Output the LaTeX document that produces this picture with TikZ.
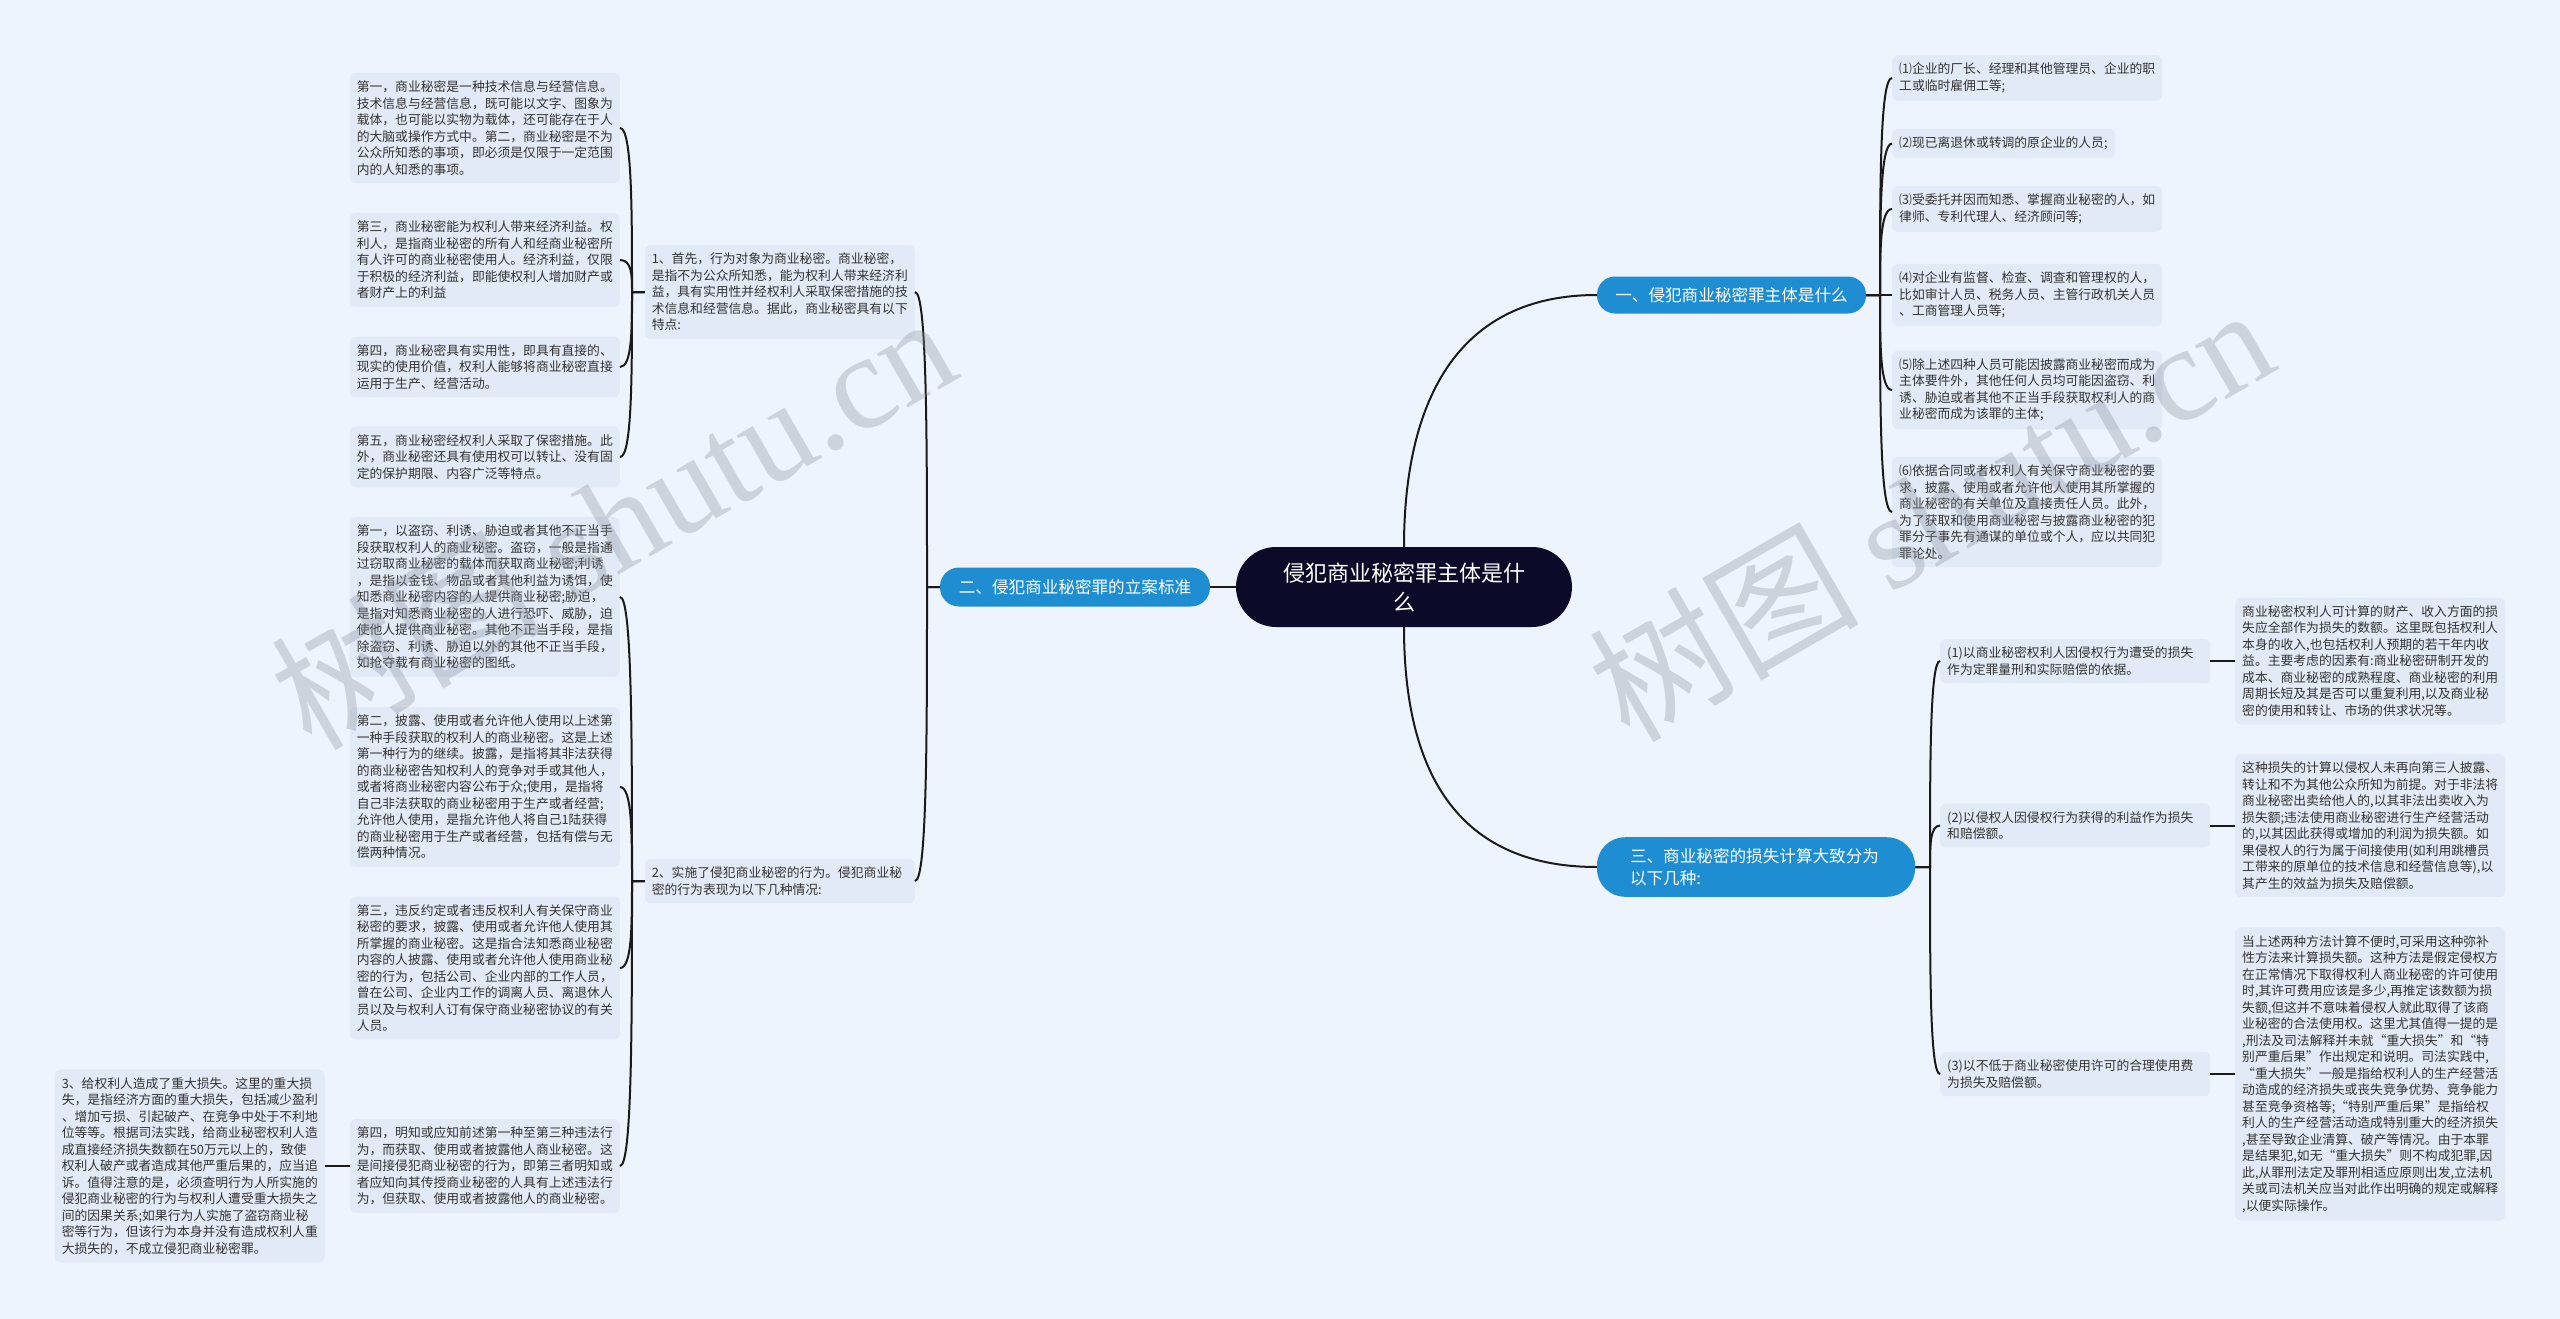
\documentclass[tikz,border=0pt]{standalone}
\usepackage{fontspec}
\setmainfont{Noto Sans CJK SC}
\newfontfamily\wmfont{Liberation Serif}
\usetikzlibrary{calc}
\definecolor{bgc}{HTML}{EEF4FD}
\definecolor{leafc}{HTML}{E2EAF7}
\definecolor{branchc}{HTML}{1E8DD2}
\definecolor{rootc}{HTML}{0B0A29}
\definecolor{txtc}{HTML}{333333}
\definecolor{linec}{HTML}{1A1A1A}
\definecolor{wmc}{HTML}{8A909C}
\newcommand\mmlink[3]{\draw[conn] (#1) -- (#2) .. controls ($(#2)!0.5!(#2|-#3)$) and (#2|-#3) .. (#3);}
\begin{document}
\begin{tikzpicture}[x=1pt,y=-1pt,
  conn/.style={draw=linec, line width=2pt},
  leafbox/.style={fill=leafc, rounded corners=6pt, text width=256pt, inner xsep=7pt, inner ysep=8pt, align=left, text=txtc, font=\fontsize{12.8}{16.5}\selectfont},
  branchbox/.style={fill=branchc, text=white, font=\fontsize{16.6}{22}\selectfont, inner sep=0pt},
  rootbox/.style={fill=rootc, text=white, rounded corners=40pt, minimum width=336pt, minimum height=80pt, align=center, font=\fontsize{22}{29}\selectfont},
  wmark/.style={text=wmc, opacity=0.33, rotate=30, font=\fontsize{135}{135}\selectfont}
]
\useasboundingbox (0,0) rectangle (2560,1319);
\fill[bgc] (0,0) rectangle (2560,1319);

% root and branches
\node[rootbox] (c) at (1404,587) {侵犯商业秘密罪主体是什\\么};
\node[branchbox, minimum width=269pt, minimum height=37pt, rounded corners=18pt] (b1) at (1731.5,295) {一、侵犯商业秘密罪主体是什么};
\node[branchbox, minimum width=270pt, minimum height=39pt, rounded corners=19pt] (b2) at (1075,587) {二、侵犯商业秘密罪的立案标准};
\node[branchbox, text width=252pt, inner xsep=33pt, inner ysep=11pt, align=left, rounded corners=28pt] (b3) at (1756,867) {三、商业秘密的损失计算大致分为\\以下几种:};

% branch 1 children
\node[leafbox, anchor=west] (r1) at (1892,78) {⑴企业的厂长、经理和其他管理员、企业的职\\工或临时雇佣工等;};
\node[leafbox, anchor=west, text width=209pt] (r2) at (1892,143.5) {⑵现已离退休或转调的原企业的人员;};
\node[leafbox, anchor=west] (r3) at (1892,209) {⑶受委托并因而知悉、掌握商业秘密的人，如\\律师、专利代理人、经济顾问等;};
\node[leafbox, anchor=west] (r4) at (1892,295) {⑷对企业有监督、检查、调查和管理权的人，\\比如审计人员、税务人员、主管行政机关人员\\、工商管理人员等;};
\node[leafbox, anchor=west] (r5) at (1892,390) {⑸除上述四种人员可能因披露商业秘密而成为\\主体要件外，其他任何人员均可能因盗窃、利\\诱、胁迫或者其他不正当手段获取权利人的商\\业秘密而成为该罪的主体;};
\node[leafbox, anchor=west] (r6) at (1892,512) {⑹依据合同或者权利人有关保守商业秘密的要\\求，披露、使用或者允许他人使用其所掌握的\\商业秘密的有关单位及直接责任人员。此外，\\为了获取和使用商业秘密与披露商业秘密的犯\\罪分子事先有通谋的单位或个人，应以共同犯\\罪论处。};

% branch 2 children
\node[leafbox, anchor=east] (n1) at (915,292) {1、首先，行为对象为商业秘密。商业秘密，\\是指不为公众所知悉，能为权利人带来经济利\\益，具有实用性并经权利人采取保密措施的技\\术信息和经营信息。据此，商业秘密具有以下\\特点:};
\node[leafbox, anchor=east] (n2) at (915,881) {2、实施了侵犯商业秘密的行为。侵犯商业秘\\密的行为表现为以下几种情况:};

\node[leafbox, anchor=east] (l1) at (620,128) {第一，商业秘密是一种技术信息与经营信息。\\技术信息与经营信息，既可能以文字、图象为\\载体，也可能以实物为载体，还可能存在于人\\的大脑或操作方式中。第二，商业秘密是不为\\公众所知悉的事项，即必须是仅限于一定范围\\内的人知悉的事项。};
\node[leafbox, anchor=east] (l2) at (620,260) {第三，商业秘密能为权利人带来经济利益。权\\利人，是指商业秘密的所有人和经商业秘密所\\有人许可的商业秘密使用人。经济利益，仅限\\于积极的经济利益，即能使权利人增加财产或\\者财产上的利益};
\node[leafbox, anchor=east] (l3) at (620,367) {第四，商业秘密具有实用性，即具有直接的、\\现实的使用价值，权利人能够将商业秘密直接\\运用于生产、经营活动。};
\node[leafbox, anchor=east] (l4) at (620,457) {第五，商业秘密经权利人采取了保密措施。此\\外，商业秘密还具有使用权可以转让、没有固\\定的保护期限、内容广泛等特点。};

\node[leafbox, anchor=east] (m1) at (620,597) {第一，以盗窃、利诱、胁迫或者其他不正当手\\段获取权利人的商业秘密。盗窃，一般是指通\\过窃取商业秘密的载体而获取商业秘密;利诱\\，是指以金钱、物品或者其他利益为诱饵，使\\知悉商业秘密内容的人提供商业秘密;胁迫，\\是指对知悉商业秘密的人进行恐吓、威胁，迫\\使他人提供商业秘密。其他不正当手段，是指\\除盗窃、利诱、胁迫以外的其他不正当手段，\\如抢夺载有商业秘密的图纸。};
\node[leafbox, anchor=east] (m2) at (620,787) {第二，披露、使用或者允许他人使用以上述第\\一种手段获取的权利人的商业秘密。这是上述\\第一种行为的继续。披露，是指将其非法获得\\的商业秘密告知权利人的竞争对手或其他人，\\或者将商业秘密内容公布于众;使用，是指将\\自己非法获取的商业秘密用于生产或者经营;\\允许他人使用，是指允许他人将自己1陆获得\\的商业秘密用于生产或者经营，包括有偿与无\\偿两种情况。};
\node[leafbox, anchor=east] (m3) at (620,968) {第三，违反约定或者违反权利人有关保守商业\\秘密的要求，披露、使用或者允许他人使用其\\所掌握的商业秘密。这是指合法知悉商业秘密\\内容的人披露、使用或者允许他人使用商业秘\\密的行为，包括公司、企业内部的工作人员，\\曾在公司、企业内工作的调离人员、离退休人\\员以及与权利人订有保守商业秘密协议的有关\\人员。};
\node[leafbox, anchor=east] (m4) at (620,1166) {第四，明知或应知前述第一种至第三种违法行\\为，而获取、使用或者披露他人商业秘密。这\\是间接侵犯商业秘密的行为，即第三者明知或\\者应知向其传授商业秘密的人具有上述违法行\\为，但获取、使用或者披露他人的商业秘密。};
\node[leafbox, anchor=east] (x) at (325,1166) {3、给权利人造成了重大损失。这里的重大损\\失，是指经济方面的重大损失，包括减少盈利\\、增加亏损、引起破产、在竞争中处于不利地\\位等等。根据司法实践，给商业秘密权利人造\\成直接经济损失数额在50万元以上的，致使\\权利人破产或者造成其他严重后果的，应当追\\诉。值得注意的是，必须查明行为人所实施的\\侵犯商业秘密的行为与权利人遭受重大损失之\\间的因果关系;如果行为人实施了盗窃商业秘\\密等行为，但该行为本身并没有造成权利人重\\大损失的，不成立侵犯商业秘密罪。};

% branch 3 children
\node[leafbox, anchor=west] (s1) at (1940,661) {(1)以商业秘密权利人因侵权行为遭受的损失\\作为定罪量刑和实际赔偿的依据。};
\node[leafbox, anchor=west] (s2) at (1940,825.5) {(2)以侵权人因侵权行为获得的利益作为损失\\和赔偿额。};
\node[leafbox, anchor=west] (s3) at (1940,1074) {(3)以不低于商业秘密使用许可的合理使用费\\为损失及赔偿额。};

\node[leafbox, anchor=west] (t1) at (2235,661) {商业秘密权利人可计算的财产、收入方面的损\\失应全部作为损失的数额。这里既包括权利人\\本身的收入,也包括权利人预期的若干年内收\\益。主要考虑的因素有:商业秘密研制开发的\\成本、商业秘密的成熟程度、商业秘密的利用\\周期长短及其是否可以重复利用,以及商业秘\\密的使用和转让、市场的供求状况等。};
\node[leafbox, anchor=west] (t2) at (2235,825.5) {这种损失的计算以侵权人未再向第三人披露、\\转让和不为其他公众所知为前提。对于非法将\\商业秘密出卖给他人的,以其非法出卖收入为\\损失额;违法使用商业秘密进行生产经营活动\\的,以其因此获得或增加的利润为损失额。如\\果侵权人的行为属于间接使用(如利用跳槽员\\工带来的原单位的技术信息和经营信息等),以\\其产生的效益为损失及赔偿额。};
\node[leafbox, anchor=west] (t3) at (2235,1074) {当上述两种方法计算不便时,可采用这种弥补\\性方法来计算损失额。这种方法是假定侵权方\\在正常情况下取得权利人商业秘密的许可使用\\时,其许可费用应该是多少,再推定该数额为损\\失额,但这并不意味着侵权人就此取得了该商\\业秘密的合法使用权。这里尤其值得一提的是\\,刑法及司法解释并未就“重大损失”和“特\\别严重后果”作出规定和说明。司法实践中,\\“重大损失”一般是指给权利人的生产经营活\\动造成的经济损失或丧失竞争优势、竞争能力\\甚至竞争资格等;“特别严重后果”是指给权\\利人的生产经营活动造成特别重大的经济损失\\,甚至导致企业清算、破产等情况。由于本罪\\是结果犯,如无“重大损失”则不构成犯罪,因\\此,从罪刑法定及罪刑相适应原则出发,立法机\\关或司法机关应当对此作出明确的规定或解释\\,以便实际操作。};

% hubs
\coordinate (hb1) at (1880,295);
\coordinate (hb2) at (927,587);
\coordinate (hb3) at (1930,867);
\coordinate (hn1) at (632,292);
\coordinate (hn2) at (632,881);

% root connectors
\draw[conn] (c.north) .. controls +(0,-130) and +(-150,0) .. (b1.west);
\draw[conn] (c.south) .. controls +(0,130) and +(-150,0) .. (b3.west);
\draw[conn] (c.west) -- (b2.east);

% branch 1
\mmlink{b1.east}{hb1}{r1.west}
\mmlink{b1.east}{hb1}{r2.west}
\mmlink{b1.east}{hb1}{r3.west}
\mmlink{b1.east}{hb1}{r4.west}
\mmlink{b1.east}{hb1}{r5.west}
\mmlink{b1.east}{hb1}{r6.west}
% branch 2
\mmlink{b2.west}{hb2}{n1.east}
\mmlink{b2.west}{hb2}{n2.east}
\mmlink{n1.west}{hn1}{l1.east}
\mmlink{n1.west}{hn1}{l2.east}
\mmlink{n1.west}{hn1}{l3.east}
\mmlink{n1.west}{hn1}{l4.east}
\mmlink{n2.west}{hn2}{m1.east}
\mmlink{n2.west}{hn2}{m2.east}
\mmlink{n2.west}{hn2}{m3.east}
\mmlink{n2.west}{hn2}{m4.east}
\draw[conn] (m4.west) -- (x.east);
% branch 3
\mmlink{b3.east}{hb3}{s1.west}
\mmlink{b3.east}{hb3}{s2.west}
\mmlink{b3.east}{hb3}{s3.west}
\draw[conn] (s1.east) -- (t1.west);
\draw[conn] (s2.east) -- (t2.west);
\draw[conn] (s3.east) -- (t3.west);

% watermarks
\node[wmark] (wm1) at (612,520) {树图 {\wmfont shutu.cn}};
\node[wmark] (wm2) at (1930,512) {树图 {\wmfont shutu.cn}};
\end{tikzpicture}
\end{document}
